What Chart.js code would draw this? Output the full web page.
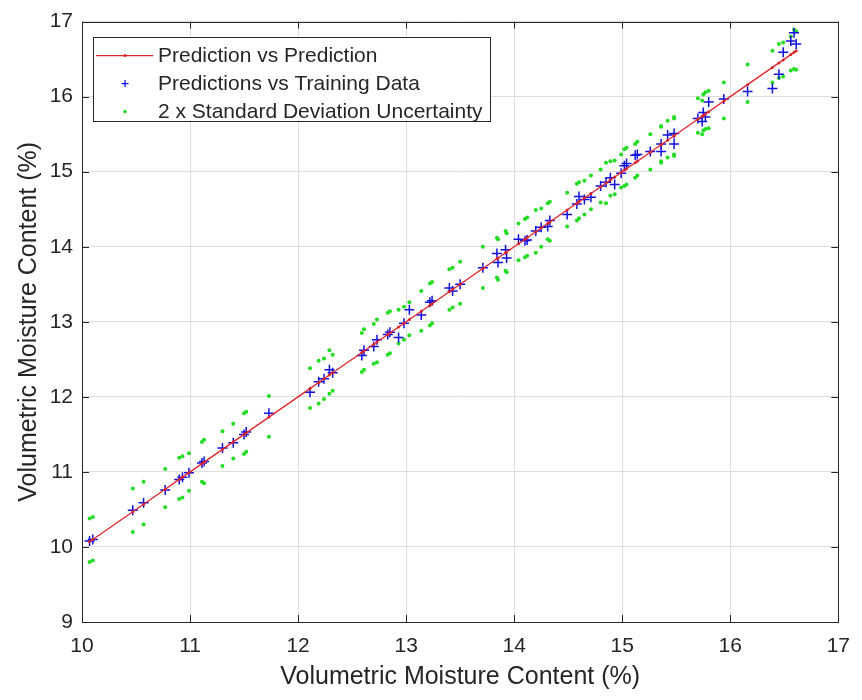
<!DOCTYPE html>
<html>
<head>
<meta charset="utf-8">
<title>Volumetric Moisture Content</title>
<script src="https://cdn.jsdelivr.net/npm/chart.js@4"></script>
<style>
  html, body { margin: 0; padding: 0; background: #fff; }
</style>
</head>
<body>
<canvas id="chart" width="862" height="700"></canvas>
<script>
// measured moisture (x), GP prediction (y) and the +/- 2 sigma band at each sample
const measured = [
  10.07, 10.10, 10.47, 10.57, 10.77, 10.90, 10.93, 10.99, 11.11, 11.13,
  11.30, 11.40, 11.50, 11.52, 11.73, 12.11, 12.19, 12.24, 12.29, 12.32,
  12.59, 12.61, 12.70, 12.73, 12.83, 12.85, 12.93, 12.98, 13.03, 13.14,
  13.22, 13.24, 13.40, 13.43, 13.50, 13.71, 13.84, 13.85, 13.92, 13.93,
  14.04, 14.10, 14.12, 14.20, 14.25, 14.31, 14.33, 14.49, 14.58, 14.60,
  14.65, 14.71, 14.80, 14.85, 14.89, 14.93, 14.99, 15.02, 15.04, 15.12,
  15.14, 15.26, 15.36, 15.36, 15.42, 15.48, 15.48, 15.70, 15.74, 15.75,
  15.77, 15.80, 15.94, 16.16, 16.39, 16.45, 16.49, 16.56, 16.59, 16.61
];
const predicted = [
  10.08, 10.10, 10.49, 10.59, 10.76, 10.90, 10.93, 10.99, 11.12, 11.14,
  11.32, 11.39, 11.50, 11.53, 11.78, 12.06, 12.20, 12.24, 12.36, 12.32,
  12.55, 12.62, 12.67, 12.76, 12.83, 12.86, 12.79, 12.98, 13.16, 13.09,
  13.26, 13.28, 13.45, 13.41, 13.50, 13.72, 13.91, 13.79, 13.96, 13.85,
  14.10, 14.08, 14.09, 14.21, 14.26, 14.27, 14.35, 14.43, 14.57, 14.67,
  14.63, 14.66, 14.81, 14.86, 14.92, 14.83, 14.98, 15.08, 15.11, 15.22,
  15.23, 15.27, 15.27, 15.37, 15.49, 15.51, 15.37, 15.71, 15.67, 15.79,
  15.73, 15.93, 15.97, 16.07, 16.11, 16.30, 16.59, 16.74, 16.85, 16.70
];
const upperBound = [
  10.38, 10.40, 10.78, 10.87, 11.04, 11.19, 11.21, 11.25, 11.40, 11.43,
  11.54, 11.64, 11.78, 11.80, 12.01, 12.38, 12.48, 12.51, 12.62, 12.56,
  12.85, 12.90, 12.97, 13.03, 13.12, 13.14, 13.16, 13.20, 13.26, 13.41,
  13.51, 13.53, 13.70, 13.72, 13.80, 14.00, 14.12, 14.10, 14.21, 14.18,
  14.31, 14.37, 14.39, 14.49, 14.51, 14.58, 14.60, 14.72, 14.84, 14.86,
  14.88, 14.95, 15.03, 15.12, 15.14, 15.15, 15.23, 15.30, 15.32, 15.37,
  15.40, 15.50, 15.61, 15.60, 15.68, 15.73, 15.71, 15.98, 15.95, 16.03,
  16.06, 16.08, 16.19, 16.43, 16.61, 16.70, 16.72, 16.80, 16.89, 16.87
];
const lowerBound = [
   9.80,  9.82, 10.20, 10.30, 10.53, 10.64, 10.66, 10.75, 10.87, 10.85,
  11.08, 11.18, 11.24, 11.27, 11.47, 11.85, 11.91, 11.97, 12.04, 12.08,
  12.33, 12.36, 12.44, 12.46, 12.56, 12.58, 12.71, 12.76, 12.82, 12.88,
  12.95, 12.98, 13.16, 13.19, 13.24, 13.45, 13.59, 13.56, 13.68, 13.66,
  13.82, 13.86, 13.88, 13.92, 14.00, 14.10, 14.08, 14.27, 14.35, 14.38,
  14.43, 14.50, 14.59, 14.58, 14.68, 14.70, 14.79, 14.81, 14.83, 14.92,
  14.95, 15.03, 15.14, 15.12, 15.19, 15.23, 15.21, 15.52, 15.50, 15.55,
  15.57, 15.58, 15.71, 15.93, 16.19, 16.25, 16.27, 16.35, 16.37, 16.36
];
const xTicks = [10, 11, 12, 13, 14, 15, 16, 17];
const yTicks = [9, 10, 11, 12, 13, 14, 15, 16, 17];
const seriesNames = [
  'Prediction vs Prediction',
  'Predictions vs Training Data',
  '2 x Standard Deviation Uncertainty'
];

const FONT = "'Liberation Sans', Arial, Helvetica, sans-serif";
const AXIS_COLOR = '#262626';

const lineData = measured.map(v => ({ x: v, y: v }));
const predData = measured.map((v, i) => ({ x: v, y: predicted[i] }));
const bandData = measured.map((v, i) => ({ x: v, y: upperBound[i] }))
  .concat(measured.map((v, i) => ({ x: v, y: lowerBound[i] })));

// box, inward ticks and a boxed legend in the upper-left corner
const frame = {
  id: 'frame',
  afterDraw(chart) {
    const { ctx, chartArea: a, scales } = chart;
    const sx = scales.x, sy = scales.y;
    ctx.save();
    ctx.strokeStyle = AXIS_COLOR;
    ctx.lineWidth = 1;
    ctx.strokeRect(Math.round(a.left) + 0.5, Math.round(a.top) + 0.5,
      Math.round(a.right - a.left), Math.round(a.bottom - a.top));
    ctx.beginPath();
    xTicks.forEach(v => {
      const p = Math.round(sx.getPixelForValue(v)) + 0.5;
      ctx.moveTo(p, a.bottom); ctx.lineTo(p, a.bottom - 7);
      ctx.moveTo(p, a.top); ctx.lineTo(p, a.top + 7);
    });
    yTicks.forEach(v => {
      const p = Math.round(sy.getPixelForValue(v)) + 0.5;
      ctx.moveTo(a.left, p); ctx.lineTo(a.left + 7, p);
      ctx.moveTo(a.right, p); ctx.lineTo(a.right - 7, p);
    });
    ctx.stroke();

    // legend
    const ds = chart.data.datasets;
    const bx = a.left + 11, by = a.top + 15, bw = 397, bh = 84;
    ctx.fillStyle = '#fff';
    ctx.fillRect(bx, by, bw, bh);
    ctx.strokeRect(Math.round(bx) + 0.5, Math.round(by) + 0.5, bw, bh);
    const rowY = [by + 19, by + 47, by + 75];
    const mx = bx + 32;
    // line entry
    ctx.strokeStyle = ds[0].borderColor;
    ctx.lineWidth = 1.3;
    ctx.beginPath();
    ctx.moveTo(bx + 3, rowY[0]); ctx.lineTo(bx + 60, rowY[0]);
    ctx.stroke();
    ctx.fillStyle = ds[0].borderColor;
    ctx.beginPath(); ctx.arc(mx, rowY[0], 1.5, 0, Math.PI * 2); ctx.fill();
    // plus entry
    ctx.strokeStyle = ds[1].borderColor;
    ctx.lineWidth = 1.3;
    ctx.beginPath();
    ctx.moveTo(mx - 3.5, rowY[1]); ctx.lineTo(mx + 3.5, rowY[1]);
    ctx.moveTo(mx, rowY[1] - 3.5); ctx.lineTo(mx, rowY[1] + 3.5);
    ctx.stroke();
    // dot entry
    ctx.fillStyle = ds[2].backgroundColor;
    ctx.beginPath(); ctx.arc(mx, rowY[2], 1.8, 0, Math.PI * 2); ctx.fill();

    ctx.fillStyle = AXIS_COLOR;
    ctx.font = '21px ' + FONT;
    ctx.textBaseline = 'middle';
    seriesNames.forEach((t, i) => ctx.fillText(t, bx + 65, rowY[i] + 1));
    ctx.restore();
  }
};

new Chart(document.getElementById('chart'), {
  type: 'scatter',
  data: {
    datasets: [
      {
        label: seriesNames[0],
        type: 'line',
        data: lineData,
        borderColor: '#e0252a',
        backgroundColor: '#e0252a',
        borderWidth: 1.3,
        pointRadius: 1.5,
        pointBorderWidth: 0,
        pointHoverRadius: 1.5,
        showLine: true,
        fill: false
      },
      {
        label: seriesNames[1],
        data: predData,
        pointStyle: 'cross',
        pointRadius: 5,
        pointHoverRadius: 5,
        borderColor: '#1010e0',
        backgroundColor: '#1010e0',
        borderWidth: 1.5
      },
      {
        label: seriesNames[2],
        data: bandData,
        pointStyle: 'circle',
        pointRadius: 2,
        pointHoverRadius: 2,
        borderWidth: 0,
        backgroundColor: '#22dd22'
      }
    ]
  },
  options: {
    responsive: false,
    animation: false,
    devicePixelRatio: 1,
    layout: { padding: { top: 21, right: 18, left: 0, bottom: 0 } },
    plugins: {
      legend: { display: false },
      tooltip: { enabled: false }
    },
    scales: {
      x: {
        type: 'linear',
        min: 10,
        max: 17,
        afterFit: s => { s.height = 78; },
        afterBuildTicks: s => { s.ticks = xTicks.map(v => ({ value: v })); },
        grid: { color: '#dedede', drawTicks: false },
        border: { display: false },
        ticks: {
          color: AXIS_COLOR,
          padding: 12,
          font: { family: FONT, size: 21 }
        },
        title: {
          display: true,
          text: 'Volumetric Moisture Content (%)',
          color: AXIS_COLOR,
          font: { family: FONT, size: 25 },
          padding: { top: 0, bottom: 8 }
        }
      },
      y: {
        type: 'linear',
        min: 9,
        max: 17,
        afterFit: s => { s.width = 82; },
        afterBuildTicks: s => { s.ticks = yTicks.map(v => ({ value: v })); },
        grid: { color: '#dedede', drawTicks: false },
        border: { display: false },
        ticks: {
          color: AXIS_COLOR,
          padding: 9,
          font: { family: FONT, size: 21 }
        },
        title: {
          display: true,
          text: 'Volumetric Moisture Content (%)',
          color: AXIS_COLOR,
          font: { family: FONT, size: 25 },
          padding: { top: 14, bottom: 0 }
        }
      }
    }
  },
  plugins: [frame]
});
</script>
</body>
</html>
